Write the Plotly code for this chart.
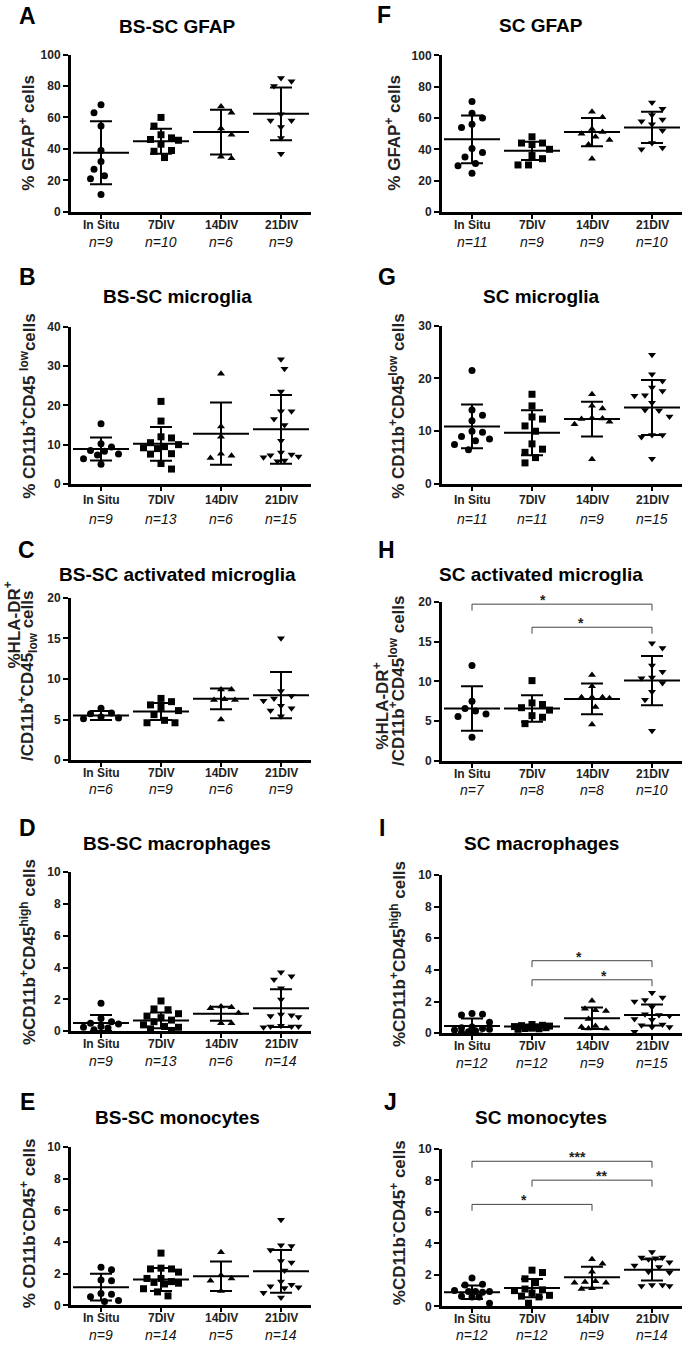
import numpy as np
import plotly.graph_objects as go

W, H = 685, 1347
GROUPS = ["In Situ", "7DIV", "14DIV", "21DIV"]
SYMBOLS = ["circle", "square", "triangle-up", "triangle-down"]
MSIZE = [7, 7, 7, 7]

# ---------------- data ----------------
A_vals = [[68, 63, 54.5, 39, 32, 27, 23, 21, 11],
          [60, 54.5, 49, 47, 46, 45.5, 43, 39, 38.5, 34.5],
          [67, 63, 53, 49, 35, 34],
          [85, 83, 80, 62, 58, 58, 54, 47, 37]]
A_mean = [37.5, 44.9, 50.7, 62.3]
A_sd = [20.0, 7.9, 14.2, 16.8]

F_vals = [[70.5, 63, 60, 56, 54, 40.5, 38, 35, 31, 29.5, 24.7],
          [48, 44, 44, 43, 40, 36, 34, 30, 30],
          [64, 60.5, 53, 51, 50, 48, 46, 43, 34],
          [70, 66, 62, 59, 58, 56, 52, 44, 41, 40]]
F_mean = [46.4, 39.0, 51.0, 54.0]
F_sd = [15.3, 5.8, 9.0, 10.0]

B_vals = [[15.3, 10.2, 9.4, 8.5, 8.3, 7.6, 7.4, 6.4, 5.0],
          [21, 16, 12, 11.7, 10.5, 10, 9.5, 9.2, 9, 7.7, 7.6, 5.2, 3.8],
          [28, 14.6, 12, 7.7, 7.2, 6.6],
          [31.7, 29.3, 23.5, 18.5, 18.5, 16.5, 15, 11, 8, 7.5, 7.3, 7, 6.8, 6, 5.8]]
B_mean = [8.9, 10.2, 12.8, 13.9]
B_sd = [2.9, 4.3, 7.9, 8.75]

G_vals = [[21.5, 14, 13, 12, 10, 9.8, 9, 8.5, 8.2, 7.5, 6.5],
          [17, 14.8, 12.7, 12.3, 11, 10, 7.6, 6.6, 6, 5, 4],
          [17, 14.8, 14.3, 12.5, 12.4, 12.3, 11.8, 11.3, 4.7],
          [24.5, 20.8, 19.5, 18.3, 17.6, 16.8, 16.7, 15.4, 14, 13.9, 12.8, 9.3, 9.3, 8.9, 4.8]]
G_mean = [10.9, 9.7, 12.3, 14.5]
G_sd = [4.15, 4.25, 3.3, 5.2]

C_vals = [[6.4, 5.8, 5.7, 5.3, 5.2, 5.1],
          [7.6, 7.2, 6.8, 6.5, 6.1, 5.6, 4.9, 4.6, 4.6],
          [8.7, 8.7, 7.5, 7.4, 7.4, 5.0],
          [15, 8.5, 7.9, 7.6, 7.3, 6.7, 6.4, 6.1, 5.4]]
C_mean = [5.5, 6.0, 7.55, 8.0]
C_sd = [0.55, 1.05, 1.28, 2.85]

H_vals = [[12, 7.5, 6.6, 6.3, 5.9, 5.6, 3.0],
          [10.1, 7.3, 7.1, 6.7, 6.4, 5.7, 5.5, 4.7],
          [10.8, 9.4, 8.0, 8.0, 8.0, 7.9, 6.8, 4.6],
          [14.8, 14.2, 12, 11.2, 10.5, 10.4, 9.8, 8.7, 7.7, 3.8]]
H_mean = [6.6, 6.6, 7.8, 10.1]
H_sd = [2.8, 1.65, 1.93, 3.1]

D_vals = [[1.75, 0.8, 0.6, 0.5, 0.45, 0.3, 0.25, 0.2, 0.1],
          [1.9, 1.4, 1.35, 1.1, 0.95, 0.85, 0.7, 0.6, 0.4, 0.3, 0.25, 0.15, 0.05],
          [1.55, 1.5, 1.45, 1.15, 0.5, 0.5],
          [3.7, 3.45, 3.25, 2.7, 2.0, 1.05, 1.0, 0.95, 0.9, 0.35, 0.3, 0.3, 0.25, 0.3]]
D_mean = [0.52, 0.68, 1.1, 1.45]
D_sd = [0.5, 0.49, 0.44, 1.18]

I_vals = [[1.25, 1.2, 1.15, 0.7, 0.4, 0.35, 0.3, 0.25, 0.2, 0.15, 0.1, 0.05],
          [0.55, 0.5, 0.48, 0.45, 0.42, 0.4, 0.38, 0.35, 0.32, 0.3, 0.28, 0.25],
          [2.05, 1.55, 1.45, 1.4, 0.9, 0.45, 0.4, 0.3, 0.3],
          [2.55, 2.25, 2.1, 2.0, 1.65, 1.2, 1.15, 1.1, 0.9, 0.85, 0.55, 0.5, 0.4, 0.4, 0.1]]
I_mean = [0.46, 0.42, 0.94, 1.15]
I_sd = [0.47, 0.12, 0.68, 0.66]

E_vals = [[2.4, 2.25, 1.6, 1.55, 0.75, 0.7, 0.55, 0.3, 0.25],
          [3.3, 2.35, 2.3, 2.3, 2.1, 1.7, 1.5, 1.7, 1.45, 1.4, 1.35, 1.05, 0.85, 0.6],
          [3.35, 1.9, 1.7, 1.55, 0.9],
          [5.4, 3.8, 3.75, 3.5, 2.8, 2.7, 2.2, 1.5, 1.3, 1.2, 1.15, 1.1, 0.8, 0.5]]
E_mean = [1.15, 1.63, 1.84, 2.15]
E_sd = [0.84, 0.73, 0.93, 1.35]

J_vals = [[1.8, 1.4, 1.35, 1.0, 0.95, 0.95, 0.9, 0.95, 0.65, 0.6, 0.6, 0.2],
          [2.3, 2.15, 1.75, 1.5, 1.1, 1.05, 1.0, 0.85, 0.7, 0.65, 0.6, 0.2],
          [3.0, 2.7, 2.2, 1.6, 1.55, 1.5, 1.5, 1.15, 1.1],
          [3.45, 3.1, 3.05, 3.0, 3.1, 2.8, 2.6, 2.5, 2.2, 2.15, 1.35, 1.3, 1.35, 1.3]]
J_mean = [0.9, 1.16, 1.85, 2.32]
J_sd = [0.43, 0.58, 0.66, 0.68]

# significance brackets: (group from, group to, level, label, label x)
H_sig = [(0, 3, 19.7, "*", 1.19), (1, 3, 16.8, "*", 1.82)]
I_sig = [(1, 3, 4.58, "*", 1.79), (1, 3, 3.375, "*", 2.2)]
J_sig = [(0, 3, 9.22, "***", 1.76), (1, 3, 8.02, "**", 2.15), (0, 2, 6.48, "*", 0.87)]

# ---------------- panel definitions ----------------
PANELS = [
    ("A", A_vals, A_mean, A_sd, "BS-SC GFAP", ["% GFAP<sup>+</sup> cells"], 100, 20, []),
    ("F", F_vals, F_mean, F_sd, "SC GFAP", ["% GFAP<sup>+</sup> cells"], 100, 20, []),
    ("B", B_vals, B_mean, B_sd, "BS-SC microglia", ["% CD11b<sup>+</sup>CD45 <sup>low</sup>cells"], 40, 10, []),
    ("G", G_vals, G_mean, G_sd, "SC microglia", ["% CD11b<sup>+</sup>CD45<sup>low</sup> cells"], 30, 10, []),
    ("C", C_vals, C_mean, C_sd, "BS-SC activated microglia",
     ["%HLA-DR<sup>+</sup>", "/CD11b<sup>+</sup>CD45<sub>low</sub> cells"], 20, 5, []),
    ("H", H_vals, H_mean, H_sd, "SC activated microglia",
     ["%HLA-DR<sup>+</sup>", "/CD11b<sup>+</sup>CD45<sup>low</sup> cells"], 20, 5, H_sig),
    ("D", D_vals, D_mean, D_sd, "BS-SC macrophages", ["%CD11b<sup>+</sup>CD45<sup>high</sup> cells"], 10, 2, []),
    ("I", I_vals, I_mean, I_sd, "SC macrophages", ["%CD11b<sup>+</sup>CD45<sup>high</sup> cells"], 10, 2, I_sig),
    ("E", E_vals, E_mean, E_sd, "BS-SC monocytes", ["% CD11b<sup>-</sup>CD45<sup>+</sup> cells"], 10, 2, []),
    ("J", J_vals, J_mean, J_sd, "SC monocytes", ["%CD11b<sup>-</sup>CD45<sup>+</sup> cells"], 10, 2, J_sig),
]

# pixel layout of each panel (ytl: centre of each y-title line, in page pixels;
# tk / nk: distance below the x axis of the group labels and of the n labels)
COLS = [dict(x0=71, x1=311, tx=177), dict(x0=442, x1=682, tx=541)]
POS = {
    "A": dict(col=0, top=48, bot=207, ty=23, letter=(27, 13), ytl=[(27, 127)], tk=13, nk=30),
    "F": dict(col=1, top=49, bot=207, ty=22, letter=(384, 12), ytl=[(393, 127)], tk=13, nk=30),
    "B": dict(col=0, top=323, bot=482, ty=295, letter=(27, 277), ytl=[(28, 403)], tk=16, nk=35),
    "G": dict(col=1, top=322, bot=482, ty=295, letter=(387, 277), ytl=[(397, 403)], tk=16, nk=35),
    "C": dict(col=0, top=597, bot=761, ty=576, letter=(26, 553), ytl=[(12, 625), (28, 676)], tk=13, nk=29),
    "H": dict(col=1, top=601, bot=762, ty=576, letter=(387, 553), ytl=[(381, 707), (397, 681)], tk=13, nk=29),
    "D": dict(col=0, top=874, bot=1035, ty=848, letter=(27, 834), ytl=[(28, 955)], tk=13, nk=30),
    "I": dict(col=1, top=877, bot=1037, ty=848, letter=(382, 834), ytl=[(398, 957)], tk=13, nk=30),
    "E": dict(col=0, top=1152, bot=1312, ty=1125, letter=(27, 1110), ytl=[(28, 1229)], tk=13, nk=30),
    "J": dict(col=1, top=1154, bot=1313, ty=1125, letter=(390, 1110), ytl=[(398, 1229)], tk=13, nk=29),
}

FONT = "Liberation Sans, Arial, sans-serif"
LETTER_SIZE, TITLE_SIZE, YTITLE_SIZE = 23, 19, 17


def swarm_offsets(vals, px_per_unit, px_per_cat, d=10.0, step=3.5, maxoff=19.0):
    """Simple beeswarm: horizontal offsets (in category units) limiting overlap."""
    vals = np.asarray(vals, dtype=float)
    order = np.argsort(-vals, kind="stable")
    placed = []
    offs = np.zeros(len(vals))
    cands = [0.0]
    j = 1
    while j * step <= maxoff:
        cands += [j * step, -j * step] if j % 2 else [-j * step, j * step]
        j += 1
    for i in order:
        y = vals[i] * px_per_unit
        best, best_d = 0.0, -1.0
        for c in cands:
            md = min([np.hypot(c - px, y - py_) for px, py_ in placed], default=1e9)
            if md >= d:
                best = c
                break
            if md > best_d + 0.5:
                best, best_d = c, md
        placed.append((best, y))
        offs[i] = best / px_per_cat
    return offs


def py(px):
    return 1 - px / H


fig = go.Figure()
annotations = []
shapes = []
layout_axes = {}

for k, (key, vals, mean, sd, title, ytitle, ymax, dtick, sig) in enumerate(PANELS, start=1):
    p = POS[key]
    c = COLS[p["col"]]
    xa = "x" if k == 1 else f"x{k}"
    ya = "y" if k == 1 else f"y{k}"
    ppu = (p["bot"] - p["top"]) / ymax
    ppc = (c["x1"] - c["x0"]) / 4.0

    for g, gvals in enumerate(vals):
        offs = swarm_offsets(gvals, ppu, ppc)
        fig.add_trace(go.Scatter(
            x=g + offs, y=gvals, mode="markers", xaxis=xa, yaxis=ya,
            marker=dict(symbol=SYMBOLS[g], size=MSIZE[g], color="black", line=dict(width=0)),
            cliponaxis=False, showlegend=False, hoverinfo="y"))
    fig.add_trace(go.Scatter(
        x=list(range(4)), y=mean, mode="markers", xaxis=xa, yaxis=ya,
        marker=dict(symbol="line-ew", size=40, color="black", line=dict(width=2, color="black")),
        error_y=dict(type="data", array=sd, width=11, thickness=2, color="black"),
        cliponaxis=False, showlegend=False, hoverinfo="y"))

    axn = "" if k == 1 else str(k)
    layout_axes[f"xaxis{axn}"] = dict(
        domain=[c["x0"] / W, c["x1"] / W], anchor=ya, range=[-0.5, 3.5],
        tickmode="array", tickvals=list(range(4)), showticklabels=False,
        showline=True, linewidth=3, linecolor="black", ticks="outside", ticklen=4,
        tickwidth=2, tickcolor="black", showgrid=False, zeroline=False)
    layout_axes[f"yaxis{axn}"] = dict(
        domain=[py(p["bot"]), py(p["top"])], anchor=xa, range=[0, ymax],
        tickmode="array", tickvals=list(range(0, ymax + 1, dtick)),
        showline=True, linewidth=3, linecolor="black",
        ticks="outside", ticklen=5, tickwidth=2, tickcolor="black",
        showgrid=False, zeroline=False,
        tickfont=dict(family=FONT, size=12, color="#222", weight="bold"))

    # panel letter
    annotations.append(dict(text=key, x=p["letter"][0] / W,
                            y=py(p["letter"][1] - 0.17 * LETTER_SIZE),
                            xref="paper", yref="paper", showarrow=False, xanchor="center",
                            yanchor="middle",
                            font=dict(family=FONT, size=LETTER_SIZE, color="black", weight="bold")))
    # title
    annotations.append(dict(text=title, x=c["tx"] / W,
                            y=py(p["ty"] - 0.15 * TITLE_SIZE),
                            xref="paper", yref="paper", showarrow=False, xanchor="center",
                            yanchor="middle",
                            font=dict(family=FONT, size=TITLE_SIZE, color="black", weight="bold")))
    # y title (one annotation per line)
    for line, (xpx, ypx) in zip(ytitle, p["ytl"]):
        annotations.append(dict(text=line, x=xpx / W, y=py(ypx),
                                xref="paper", yref="paper", showarrow=False, textangle=-90,
                                xanchor="center", yanchor="middle",
                                font=dict(family=FONT, size=YTITLE_SIZE, color="#222", weight="bold")))
    # group labels and n labels under each category
    for g, gvals in enumerate(vals):
        annotations.append(dict(text=GROUPS[g], x=g, y=0, xref=xa,
                                yref=f"{ya} domain", yshift=-p["tk"], showarrow=False,
                                xanchor="center", yanchor="middle",
                                font=dict(family=FONT, size=12, color="#222", weight="bold")))
        annotations.append(dict(text=f"n={len(gvals)}", x=g, y=0, xref=xa,
                                yref=f"{ya} domain", yshift=-p["nk"], showarrow=False,
                                xanchor="center", yanchor="middle",
                                font=dict(family=FONT, size=14, color="#111", style="italic")))
    # significance brackets
    tick = 6.5 / ppu
    for (g0, g1, lev, lab, lx) in sig:
        shapes.append(dict(type="path", xref=xa, yref=ya,
                           path=f"M {g0},{lev - tick} L {g0},{lev} L {g1},{lev} L {g1},{lev - tick}",
                           line=dict(color="#444", width=1)))
        annotations.append(dict(text=lab, x=lx, y=lev, xref=xa, yref=ya,
                                showarrow=False, xanchor="center", yanchor="middle", yshift=4,
                                font=dict(family=FONT, size=14, color="#222", weight="bold")))

fig.update_layout(
    width=W, height=H, margin=dict(l=0, r=0, t=0, b=0),
    paper_bgcolor="white", plot_bgcolor="white",
    font=dict(family=FONT, color="black"),
    annotations=annotations, shapes=shapes, showlegend=False,
    **layout_axes)

fig.write_html("out.html", config={"displayModeBar": False},
               post_script="document.body.style.margin='0';")
